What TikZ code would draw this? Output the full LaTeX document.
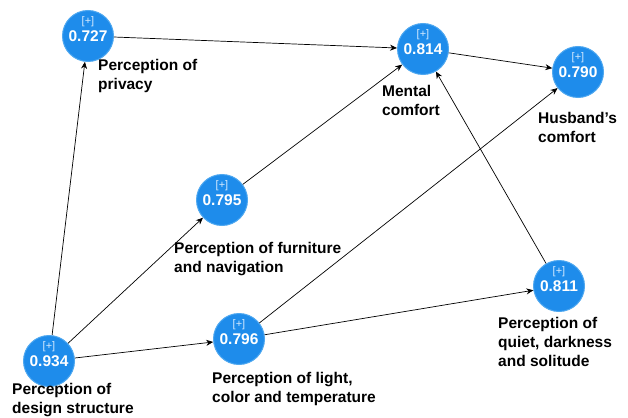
\documentclass[tikz,border=0pt]{standalone}
\usepackage{fontspec}
\setmainfont{Liberation Sans}
\usetikzlibrary{arrows.meta}
\definecolor{lvblue}{HTML}{1E8CEB}
\definecolor{lvrim}{HTML}{4FA8F0}
\definecolor{lvplus}{HTML}{D6EBFF}

\begin{document}
\begin{tikzpicture}[x=1pt, y=-1pt,
    construct/.style={circle, fill=lvblue, draw=lvrim, line width=1pt, minimum size=51pt, inner sep=0pt, text=white, font=\bfseries\fontsize{15.5}{16}\selectfont},
    plusmark/.style={inner sep=0pt, text=lvplus, font=\fontsize{11}{11}\selectfont},
    caption/.style={anchor=north west, inner sep=0pt, align=left, font=\bfseries\fontsize{15.5}{19}\selectfont},
    link/.style={-{Stealth[length=7pt, width=6pt]}, line width=0.7pt}]
    \useasboundingbox (0,0) rectangle (628,417);
    % constructs
    \node[construct] (privacy) at (88,36) {0.727};
    \node[construct] (mental) at (423,49) {0.814};
    \node[construct] (husband) at (578,72) {0.790};
    \node[construct] (furniture) at (222,200) {0.795};
    \node[construct] (design) at (49,361) {0.934};
    \node[construct] (light) at (239,339) {0.796};
    \node[construct] (quiet) at (559,286) {0.811};
    \foreach \c in {privacy, mental, husband, furniture, design, light, quiet}
        \node[plusmark] (\c-plus) at ([yshift=14pt]\c.center) {[+]};
    % captions
    \node[caption] (privacy-text) at (98,59) {Perception of\\privacy};
    \node[caption] (mental-text) at (382,85) {Mental\\comfort};
    \node[caption] (husband-text) at (538,112) {Husband's\\comfort};
    \node[caption] (furniture-text) at (174,242) {Perception of furniture\\and navigation};
    \node[caption] (design-text) at (12,383) {Perception of\\design structure};
    \node[caption] (light-text) at (212,372) {Perception of light,\\color and temperature};
    \node[caption] (quiet-text) at (498,317) {Perception of\\quiet, darkness\\and solitude};
    % paths
    \path[link] (design) edge (privacy) edge (furniture) edge (light);
    \path[link] (privacy) edge (mental);
    \path[link] (furniture) edge (mental);
    \path[link] (mental) edge (husband);
    \path[link] (light) edge (husband) edge (quiet);
    \path[link] (quiet) edge (mental);
\end{tikzpicture}
\end{document}
